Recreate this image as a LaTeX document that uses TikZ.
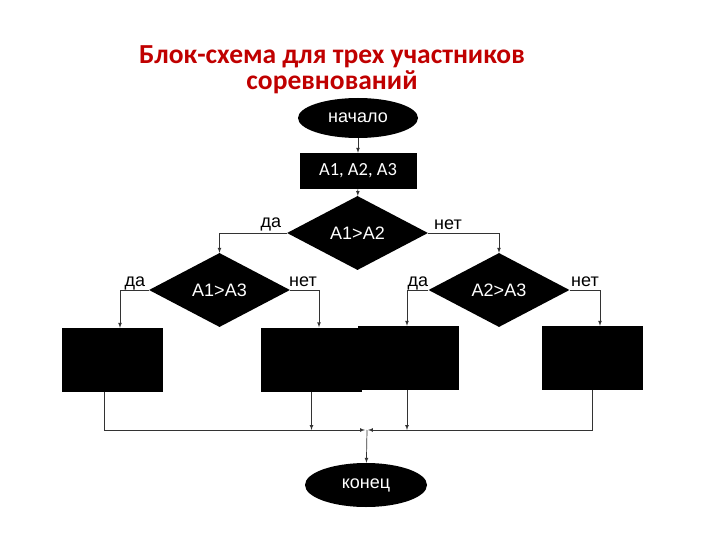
\documentclass[tikz,border=0pt]{standalone}
\usepackage{fontspec}
\setmainfont{Liberation Sans}
\newfontfamily\calibri{Carlito}
\usepackage{tikz}
\usetikzlibrary{shapes}
\usetikzlibrary{positioning}
\usepackage{xcolor}
\definecolor{titlered}{HTML}{C00000}
\tikzset{
  blk/.style={fill=black,text=white,inner sep=0pt,font=\fontsize{18}{20}\selectfont},
  oval/.style={blk,ellipse,minimum width=120pt,minimum height=40pt},
  ask/.style={blk,diamond,minimum width=141pt,minimum height=74pt},
  box/.style={blk,rectangle,minimum width=101pt,minimum height=64pt},
  lbl/.style={font=\fontsize{18}{20}\selectfont},
  con/.style={->,>=latex,black!80,line width=0.7pt}
}
\begin{document}
\begin{tikzpicture}[x=1pt,y=-1pt]
\useasboundingbox (0,0) rectangle (720,540);
\node[align=center,text=titlered,font=\calibri\bfseries\fontsize{27.5}{26}\selectfont] (title) at (332,70) {Блок-схема для трех участников\\соревнований};
\node[oval] (start) at (358,118) {начало};
\node[blk,minimum width=117pt,minimum height=36pt,font=\calibri\fontsize{18.5}{20}\selectfont] (data) at (358,171) {A1, A2, A3};
\node[ask] (q1) at (357.5,233) {A1>A2};
\node[ask] (q2) at (219.5,290) {A1>A3};
\node[ask] (q3) at (499,290) {A2>A3};
\node[box] (b1) at (112,360) {};
\node[box] (b2) at (311.5,359.5) {};
\node[box] (b3) at (408.5,358) {};
\node[box] (b4) at (592.5,358) {};
\node[oval,minimum width=122pt,minimum height=44pt] (stop) at (366,485) {конец};
\coordinate (m) at (367,430);
\draw[con] (start) -- (data);
\draw[con] (data) -- (q1);
\draw[con] (q1.west) -| (q2.north);
\draw[con] (q1.east) -| (q3.north);
\draw[con] (q2.west) -| ([xshift=8pt]b1.north);
\draw[con] (q2.east) -| ([xshift=7.5pt]b2.north);
\draw[con] (q3.west) -| ([xshift=-1.5pt]b3.north);
\draw[con] (q3.east) -| ([xshift=7.5pt]b4.north);
\draw[con] ([xshift=-8pt]b1.south) |- ([xshift=-2pt]m);
\draw[con] (b2.south) -- (b2.south |- m);
\draw[con] ([xshift=-1.5pt]b3.south) -- ([xshift=-1.5pt]b3.south |- m);
\draw[con] (b4.south) |- ([xshift=1pt]m);
\draw[con] (m) -- (stop);
\node[lbl] (y1) at (271,224) {да};
\node[lbl] (n1) at (448,225) {нет};
\node[lbl] (y2) at (135,283) {да};
\node[lbl] (n2) at (303,282) {нет};
\node[lbl] (y3) at (418,283) {да};
\node[lbl] (n3) at (585,282) {нет};
\end{tikzpicture}
\end{document}
